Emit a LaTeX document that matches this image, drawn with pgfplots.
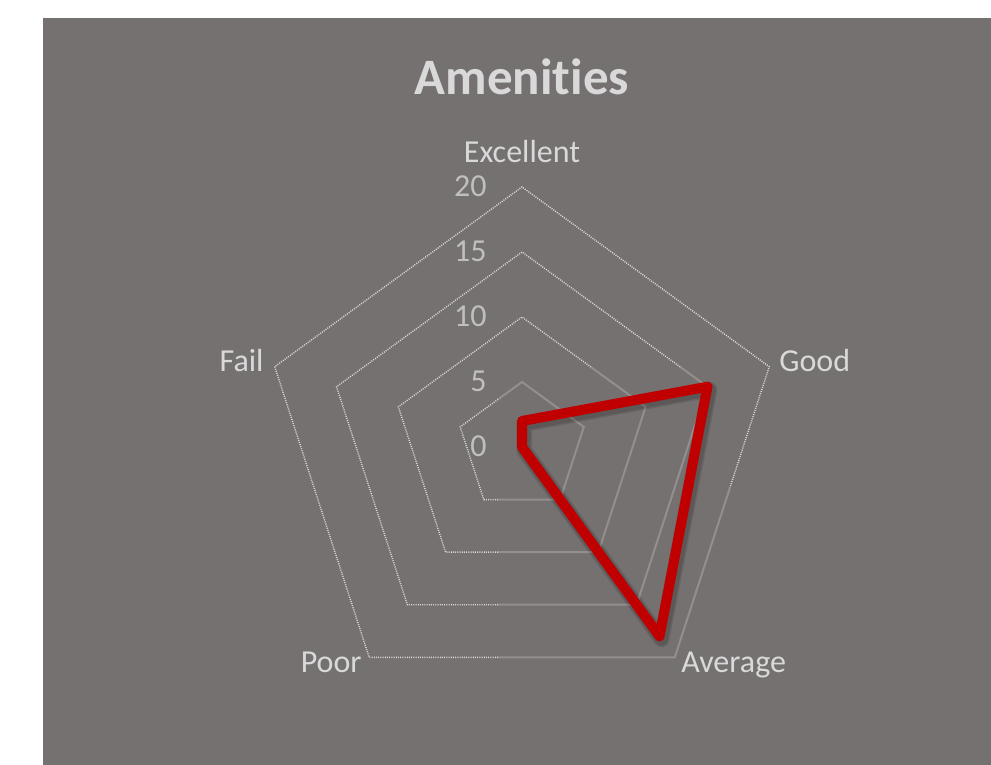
\documentclass[border=0pt]{standalone}
\usepackage{fontspec}
\setmainfont{Carlito}[Ligatures={NoCommon,NoRequired}]
\usepackage{pgfplots}
\pgfplotsset{compat=1.18}
\definecolor{bg}{HTML}{767171}
\definecolor{txt}{HTML}{D9D9D9}
\definecolor{tickc}{HTML}{BFBFBF}
\definecolor{redc}{HTML}{C00000}
\definecolor{gridsolidc}{HTML}{938F8E}
\tikzset{
  griddot/.style={draw=txt, line width=0.7pt, dash pattern=on 0.5pt off 0.6pt},
  gridsolid/.style={draw=gridsolidc, line width=1pt},
  lbl/.style={inner sep=0pt, text=txt, font=\fontsize{16}{19}\selectfont},
  tk/.style={inner sep=0pt, anchor=base east, text=tickc, font=\fontsize{16}{19}\selectfont},
}
\begin{document}
\begin{tikzpicture}
\begin{axis}[
  x=6.5pt, y=6.5pt,
  xmin=-40.154, xmax=36.077, ymin=-24.462, ymax=34.385,
  hide axis, clip=false,
]
\fill[white] (axis cs:-40.154,-24.462) rectangle (axis cs:36.077,34.385);
\fill[bg] (axis cs:-36.846,-24.462) rectangle (axis cs:36.077,33.0);

% pentagon grid (0..20 step 5), solid inside the lower-right patch, dotted elsewhere
\addplot[gridsolid] coordinates {(-1.85,3.656) (0,5) (4.755,1.545) (2.939,-4.045) (-1.85,-4.045)};
\addplot[griddot] coordinates {(-1.85,-4.045) (-2.939,-4.045) (-4.755,1.545) (-1.85,3.656)};
\addplot[gridsolid] coordinates {(5.285,6.16) (9.511,3.090) (5.878,-8.090) (-1.85,-8.090)};
\addplot[griddot] coordinates {(-1.85,-8.090) (-5.878,-8.090) (-9.511,3.090) (0,10) (5.285,6.16)};
\addplot[gridsolid] coordinates {(12.167,6.16) (14.266,4.635) (8.817,-12.135) (-1.85,-12.135)};
\addplot[griddot] coordinates {(-1.85,-12.135) (-8.817,-12.135) (-14.266,4.635) (0,15) (12.167,6.16)};
\addplot[gridsolid] coordinates {(16.0,-3.117) (11.756,-16.18) (-1.85,-16.18)};
\addplot[griddot] coordinates {(-1.85,-16.18) (-11.756,-16.18) (-19.021,6.18) (0,20) (19.021,6.18) (16.0,-3.117)};

% series: Excellent, Good, Average, Poor, Fail
\addplot[data cs=polar, draw=black, opacity=0.10, line width=8pt, line join=round, line cap=round, xshift=1pt, yshift=-1.5pt]
  coordinates {(90,2) (18,15) (-54,18) (-126,0) (162,0) (90,2)};
\addplot[data cs=polar, draw=black, opacity=0.12, line width=6.5pt, line join=round, line cap=round, xshift=1pt, yshift=-1.5pt]
  coordinates {(90,2) (18,15) (-54,18) (-126,0) (162,0) (90,2)};
\addplot[data cs=polar, draw=redc, line width=5pt, line join=round, line cap=round]
  coordinates {(90,2) (18,15) (-54,18) (-126,0) (162,0) (90,2)};

% tick labels
\node[tk] at (axis cs:-2.69,-0.769) {0};
\node[tk] at (axis cs:-2.69,4.231) {5};
\node[tk] at (axis cs:-2.69,9.231) {10};
\node[tk] at (axis cs:-2.69,14.231) {15};
\node[tk] at (axis cs:-2.69,19.231) {20};

% category labels
\node[lbl, anchor=base] at (axis cs:0,21.846) {Excellent};
\node[lbl, anchor=base west] at (axis cs:19.77,5.77) {Good};
\node[lbl, anchor=base west] at (axis cs:12.23,-17.385) {Average};
\node[lbl, anchor=base east] at (axis cs:-12.31,-17.385) {Poor};
\node[lbl, anchor=base east] at (axis cs:-19.85,5.77) {Fail};

% title
\node[inner sep=0pt, anchor=base, text=txt, font=\fontsize{25.5}{30}\selectfont\bfseries] at (axis cs:0,27.077) {Amenities};
\end{axis}
\end{tikzpicture}
\end{document}
